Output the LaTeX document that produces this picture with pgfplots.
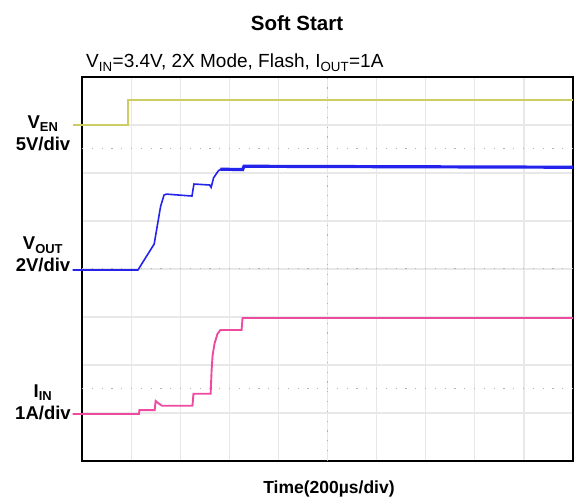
\documentclass[border=0pt]{standalone}
\usepackage{fontspec}
\setmainfont{Liberation Sans}
\usepackage{pgfplots}
\pgfplotsset{compat=1.18}
\definecolor{cyel}{RGB}{205,205,100}
\definecolor{cblue}{RGB}{35,35,235}
\definecolor{cpink}{RGB}{238,75,160}
\begin{document}
\begin{tikzpicture}
\useasboundingbox (0pt,0pt) rectangle (574pt,503pt);
\begin{axis}[at={(82pt,42pt)}, anchor=south west, width=491pt, height=384pt, scale only axis,
  xmin=0,xmax=10,ymin=0,ymax=8,
  xtick={0,...,10}, ytick={0,...,8}, xticklabels={}, yticklabels={},
  major tick length=0pt, grid=major, grid style={black!9, line width=1.2pt},
  axis line style={black, line width=1.8pt}, clip=false]
\draw[black!30, line width=1pt, dash pattern=on 1.2pt off 8.6pt] (axis cs:0,6.5) -- (axis cs:10,6.5);
\draw[black!30, line width=1pt, dash pattern=on 1.2pt off 8.6pt] (axis cs:0,4) -- (axis cs:10,4);
\draw[black!30, line width=1pt, dash pattern=on 1.2pt off 8.6pt] (axis cs:0,1.5) -- (axis cs:10,1.5);
\draw[black!30, line width=1pt, dash pattern=on 1.2pt off 8.6pt] (axis cs:5,0) -- (axis cs:5,8);
% V_EN
\addplot[cyel, line width=1.7pt] coordinates {(-0.19,7.0) (0.94,7.0) (0.94,7.52) (10,7.52)};
% V_OUT
\addplot[cblue, line width=1.6pt] coordinates {(-0.19,3.98) (1.14,3.98) (1.47,4.52) (1.50,4.70) (1.60,5.30) (1.67,5.54) (1.72,5.56) (2.24,5.52) (2.28,5.77) (2.60,5.75) (2.63,5.70) (2.68,5.90) (2.78,6.05) (2.85,6.09)};
\addplot[cblue, line width=3.2pt] coordinates {(2.82,6.08) (3.27,6.07) (3.30,6.14) (10,6.12)};
% I_IN
\addplot[cpink, line width=1.9pt] coordinates {(-0.19,0.98) (1.16,0.98) (1.17,1.06) (1.48,1.06) (1.50,1.25) (1.56,1.20) (1.63,1.15) (2.25,1.15) (2.27,1.40) (2.62,1.40) (2.64,1.90) (2.66,2.20) (2.70,2.45) (2.76,2.65) (2.82,2.73) (3.25,2.73) (3.27,2.98) (10,2.98)};
\end{axis}
\begin{scope}[every node/.style={anchor=base, font=\bfseries\fontsize{18.5}{20}\selectfont, inner sep=0pt}]
\node at (43pt,374pt) {V\textsubscript{EN}};
\node at (43pt,352pt) {5V/div};
\node at (43pt,253pt) {V\textsubscript{OUT}};
\node at (43pt,231pt) {2V/div};
\node at (43pt,105pt) {I\textsubscript{IN}};
\node at (43pt,83pt) {1A/div};
\end{scope}
\node[anchor=base, font=\bfseries\fontsize{20.5}{24}\selectfont, inner sep=0pt] at (297pt,472pt) {Soft Start};
\node[anchor=base west, font=\fontsize{19}{22}\selectfont, inner sep=0pt] at (86pt,435pt) {V\textsubscript{IN}=3.4V, 2X Mode, Flash, I\textsubscript{OUT}=1A};
\node[anchor=base, font=\bfseries\fontsize{17.5}{20}\selectfont, inner sep=0pt] at (329pt,9pt) {Time(200µs/div)};
\end{tikzpicture}
\end{document}
